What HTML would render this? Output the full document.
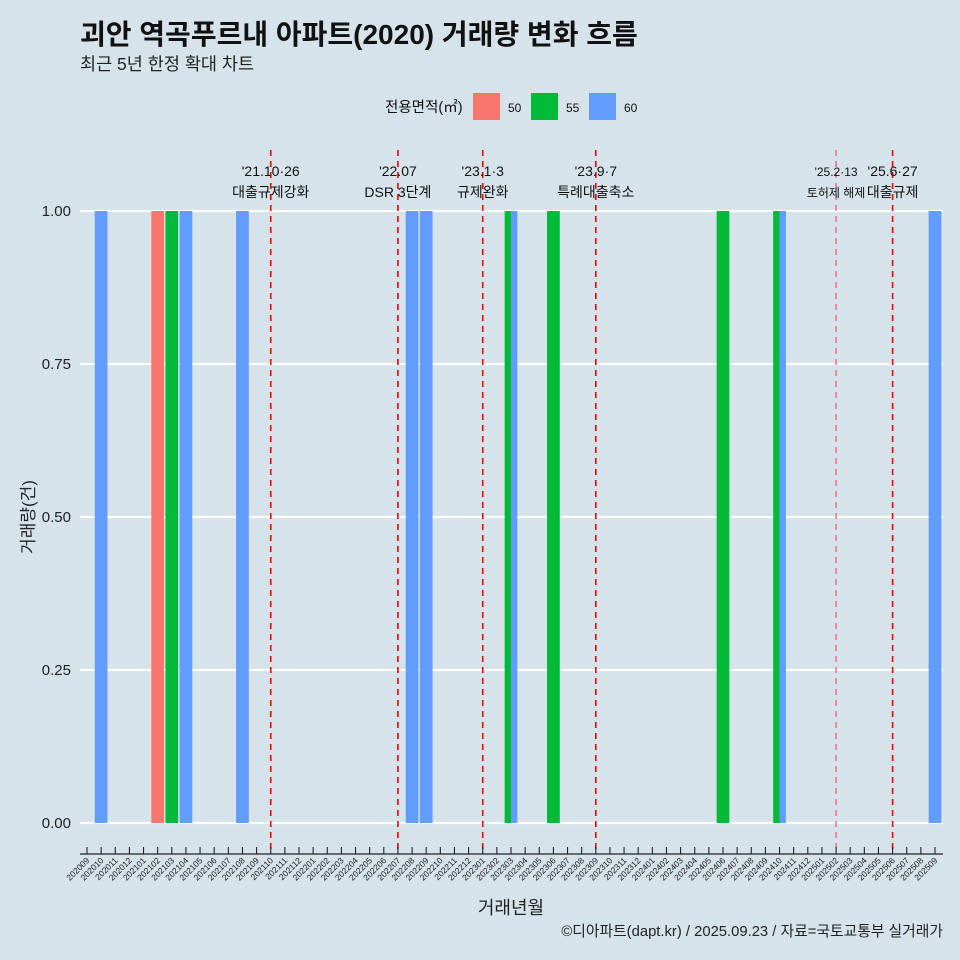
<!DOCTYPE html>
<html><head><meta charset="utf-8"><style>
body{margin:0;background:#d6e3ea;}
svg{display:block;font-family:"Liberation Sans","Noto Sans CJK KR",sans-serif;}
</style></head><body>
<svg id="c" width="960" height="960" viewBox="0 0 960 960">
<rect width="960" height="960" fill="#d6e3ea"/>
<text x="80" y="44" font-size="28" font-weight="bold" fill="#111">괴안 역곡푸르내 아파트(2020) 거래량 변화 흐름</text>
<text x="80" y="70" font-size="17.5" fill="#222">최근 5년 한정 확대 차트</text>
<g>
<text x="385" y="112" font-size="14.5" fill="#111">전용면적(㎡)</text>
<rect x="473" y="93" width="27" height="27" fill="#f8766d"/>
<text x="508" y="112" font-size="12" fill="#111">50</text>
<rect x="531" y="93" width="27" height="27" fill="#00ba38"/>
<text x="566" y="112" font-size="12" fill="#111">55</text>
<rect x="589" y="93" width="27" height="27" fill="#619cff"/>
<text x="624" y="112" font-size="12" fill="#111">60</text>
</g>
<g id="grid"></g><g id="bars"></g><g id="events"></g><g id="axes"></g>
<text transform="translate(34,517) rotate(-90)" text-anchor="middle" font-size="17" fill="#222">거래량(건)</text>
<text x="511" y="914" text-anchor="middle" font-size="18" fill="#222">거래년월</text>
<text x="943" y="936" text-anchor="end" font-size="14.8" fill="#222">©디아파트(dapt.kr) / 2025.09.23 / 자료=국토교통부 실거래가</text>
</svg>
<script>
const months=[];for(let y=2020;y<=2025;y++)for(let m=1;m<=12;m++){const k=y*100+m;if(k>=202009&&k<=202509)months.push(String(k));}
const seriesNames=["50","55","60"];
const seriesColors=["#f8766d","#00ba38","#619cff"];
const barMonths=["202010","202102","202103","202104","202108","202208","202209","202303","202303","202306","202406","202410","202410","202509"];
const barSeries=["60","50","55","60","60","60","60","55","60","55","55","55","60","60"];
const barValues=[1,1,1,1,1,1,1,1,1,1,1,1,1,1];
const yTicks=[0,0.25,0.5,0.75,1];
const yTickLabels=["0.00","0.25","0.50","0.75","1.00"];
const eventMonths=["202110","202207","202301","202309","202502","202506"];
const eventDates=["'21.10·26","'22.07","'23.1·3","'23.9·7","'25.2·13","'25.6·27"];
const eventNames=["대출규제강화","DSR 3단계","규제완화","특례대출축소","토허제 해제","대출규제"];

const NS="http://www.w3.org/2000/svg";
const x0=87,step=(935-87)/60;
function xScale(m){return x0+months.indexOf(m)*step;}
function yScale(v){return 823-v*612;}
function mk(tag,attrs,parent){const e=document.createElementNS(NS,tag);for(const k in attrs)e.setAttribute(k,attrs[k]);document.getElementById(parent).appendChild(e);return e;}
yTicks.forEach((t,i)=>{
 const l=mk("line",{x1:80,x2:943,y1:yScale(t),y2:yScale(t),stroke:"#fff","stroke-width":2.2},"grid");
 
 
 const tx=mk("text",{x:71,y:yScale(t)+5,"text-anchor":"end","font-size":15,fill:"#222"},"grid");
 tx.textContent=yTickLabels[i];
 
 
});
const bw=step*0.9;
barMonths.forEach((m,i)=>{
 const same=barMonths.map((mm,j)=>mm===m?j:-1).filter(j=>j>=0);
 const n=same.length,k=same.indexOf(i),w=bw/n;
 const x=xScale(m)-bw/2+k*w;
 const r=mk("rect",{x:x,y:yScale(barValues[i]),width:w,height:yScale(0)-yScale(barValues[i]),fill:seriesColors[seriesNames.indexOf(barSeries[i])]},"bars");
 
 
});
eventMonths.forEach((m,i)=>{
 const x=xScale(m);const light=m==="202502";
 const l=mk("line",{x1:x,x2:x,y1:150,y2:853,stroke:light?"#e55":"#e00","stroke-width":light?1.2:1.6,"stroke-dasharray":"6,5"},"events");
 
 
 const fs=light?12:14;
 const a=mk("text",{x:x,y:176,"text-anchor":"middle","font-size":fs,fill:"#111"},"events");a.textContent=eventDates[i];
 
 
 const b=mk("text",{x:x,y:197,"text-anchor":"middle","font-size":fs,fill:"#111"},"events");b.textContent=eventNames[i];
 
 
});
const ax=mk("line",{x1:80,x2:943,y1:854,y2:854,stroke:"#222","stroke-width":1.3},"axes");


months.forEach(m=>{
 const x=xScale(m);
 const t=mk("line",{x1:x,x2:x,y1:847,y2:854,stroke:"#222","stroke-width":1.1},"axes");
 
 
 const tx=mk("text",{transform:`translate(${x+3},${861}) rotate(-45)`,"text-anchor":"end","font-size":8.5,fill:"#222"},"axes");
 tx.textContent=m;
 
 
});
</script>
</body></html>
